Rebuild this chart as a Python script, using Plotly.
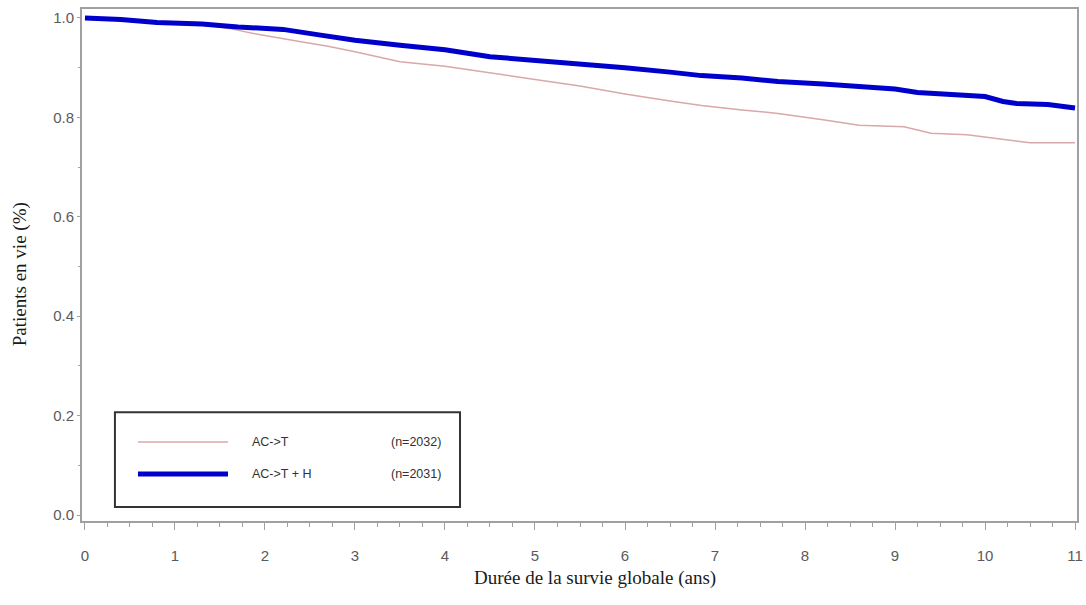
import plotly.graph_objects as go

# Kaplan-Meier style curves
t_act = [0, 0.4, 0.8, 1.3, 1.6, 1.95, 2.4, 2.7, 3.0, 3.5, 4.0, 4.5, 5.0, 5.5, 6.0, 6.5,
         6.85, 7.3, 7.7, 8.2, 8.6, 9.1, 9.4, 9.8, 10.15, 10.5, 11.0]
s_act = [1.0, 0.997, 0.991, 0.987, 0.979, 0.966, 0.952, 0.943, 0.932, 0.912, 0.903, 0.889,
         0.876, 0.863, 0.847, 0.833, 0.824, 0.815, 0.808, 0.795, 0.784, 0.781, 0.768, 0.765,
         0.757, 0.749, 0.749]

t_acth = [0, 0.4, 0.8, 1.3, 1.7, 2.2, 2.6, 3.0, 3.5, 4.0, 4.5, 5.0, 5.5, 6.0, 6.5, 6.85,
          7.3, 7.7, 8.2, 8.6, 9.0, 9.25, 9.6, 10.0, 10.2, 10.35, 10.7, 10.9, 11.0]
s_acth = [1.0, 0.997, 0.991, 0.988, 0.982, 0.977, 0.966, 0.955, 0.945, 0.936, 0.922, 0.915,
          0.909, 0.900, 0.891, 0.884, 0.879, 0.872, 0.867, 0.862, 0.857, 0.850, 0.846, 0.842,
          0.832, 0.828, 0.826, 0.822, 0.819]

names = ["AC->T", "AC->T + H"]
counts = ["(n=2032)", "(n=2031)"]
colors = ["#D9A8A8", "#0000CC"]
widths = [1.5, 5]

x_ticks = list(range(0, 12))
y_ticks = [0.0, 0.2, 0.4, 0.6, 0.8, 1.0]

x_title = "Durée de la survie globale (ans)"
y_title = "Patients en vie (%)"

fig = go.Figure()
fig.add_trace(go.Scatter(x=t_act, y=s_act, mode="lines", name=names[0],
                         line=dict(color=colors[0], width=widths[0])))
fig.add_trace(go.Scatter(x=t_acth, y=s_acth, mode="lines", name=names[1],
                         line=dict(color=colors[1], width=widths[1])))

axis_col = "#A0A0A0"
tick_font = dict(family="Liberation Sans, Arial, sans-serif", size=15, color="#5a5a5a")
title_font = dict(family="Liberation Serif, Times New Roman, serif", size=19, color="#1a1a1a")
leg_font = dict(family="Liberation Sans, Arial, sans-serif", size=12.5, color="#333333")

fig.update_layout(
    width=1086, height=605,
    margin=dict(l=82, r=9, t=9, b=84),
    paper_bgcolor="white", plot_bgcolor="white",
    showlegend=False,
    xaxis=dict(range=[-0.033, 11.022], tickvals=x_ticks, ticks="outside", ticklen=7,
               tickcolor=axis_col, tickwidth=1, showline=True, linecolor=axis_col,
               linewidth=2, mirror=True, showgrid=False, zeroline=False,
               tickfont=tick_font, ticklabelstandoff=13, automargin=False,
               minor=dict(dtick=0.25, ticks="outside", ticklen=4, tickcolor=axis_col,
                          showgrid=False)),
    yaxis=dict(range=[-0.012, 1.018], tickvals=y_ticks, tickformat=".1f", ticks="outside",
               ticklen=3, tickcolor=axis_col, showline=True, linecolor=axis_col,
               linewidth=2, mirror=True, showgrid=False, zeroline=False,
               tickfont=tick_font, automargin=False,
               minor=dict(dtick=0.1, ticks="outside", ticklen=2, tickcolor=axis_col,
                          showgrid=False)),
)

# Axis titles
fig.add_annotation(text=x_title, xref="paper", yref="paper", x=0.5156, y=-0.111,
                   showarrow=False, xanchor="center", yanchor="middle", font=title_font)
fig.add_annotation(text=y_title, xref="paper", yref="paper", x=-0.0623, y=0.482,
                   showarrow=False, xanchor="center", yanchor="middle", textangle=-90,
                   font=title_font)

# Manual legend box (as in the reference)
fig.add_shape(type="rect", xref="x", yref="y", x0=0.333, x1=4.167, y0=0.016, y1=0.207,
              line=dict(color="#333333", width=2), fillcolor="white", layer="above")
leg_y = [0.147, 0.0825]
for i in range(2):
    fig.add_shape(type="line", xref="x", yref="y", x0=0.589, x1=1.589, y0=leg_y[i],
                  y1=leg_y[i], line=dict(color=colors[i], width=widths[i]), layer="above")
    fig.add_annotation(x=1.833, y=leg_y[i], xref="x", yref="y", text=names[i],
                       showarrow=False, xanchor="left", font=leg_font)
    fig.add_annotation(x=3.978, y=leg_y[i], xref="x", yref="y", text=counts[i],
                       showarrow=False, xanchor="right", font=leg_font)

# Remove the default page margin so the figure sits at the window's top-left corner
fig.write_html("out.html", config={"displayModeBar": False},
               post_script="document.body.style.margin='0';")
